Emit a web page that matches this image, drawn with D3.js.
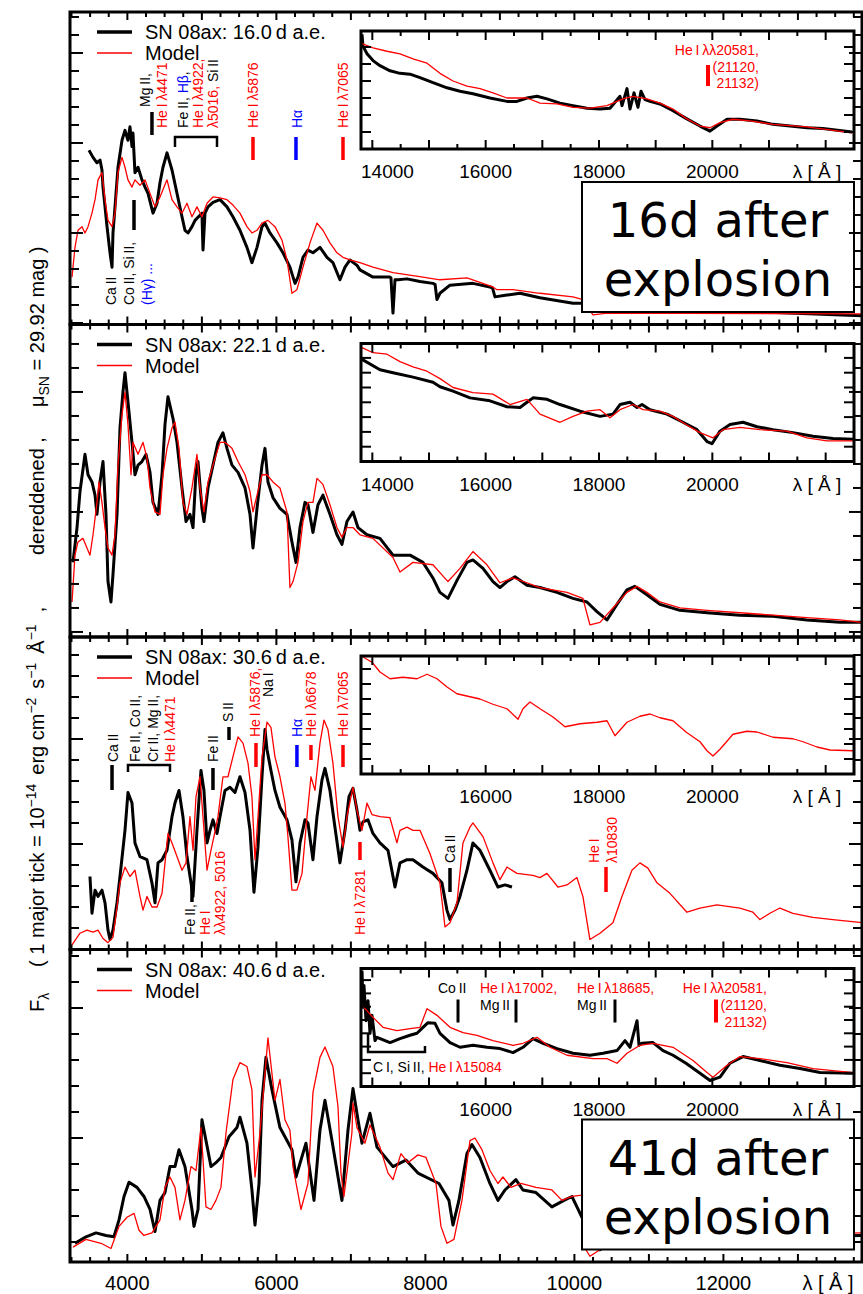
<!DOCTYPE html>
<html>
<head>
<meta charset="utf-8">
<script src="https://cdn.jsdelivr.net/npm/d3@7"></script>
<style>
  body { margin: 0; background: #fff; }
  svg { display: block; }
</style>
</head>
<body>
<svg id="chart" width="863" height="1294"></svg>
<script>
// SN 2008ax: observed spectra vs. radiative-transfer models at four epochs.
// Wavelength in Å, flux in units of 1e-14 erg cm^-2 s^-1 Å^-1 (dereddened).

const epochLabels = ["16.0", "22.1", "30.6", "40.6"];
const boxTexts = [["16d after", "explosion"], null, null, ["41d after", "explosion"]];
const opticalTickLabels = [4000, 6000, 8000, 10000, 12000];
const nirTickLabels = [14000, 16000, 18000, 20000];

// ---------- optical, day 16 ----------
const obsDay16 = [[3485,1.92],[3539,1.84],[3592,1.78],[3633,1.81],[3659,1.70],[3673,1.51],[3727,1.07],[3767,0.78],[3794,0.62],[3807,1.00],[3834,1.29],[3874,1.73],[3928,2.03],[3968,2.14],[4008,2.03],[4035,2.18],[4062,1.96],[4075,2.11],[4102,1.67],[4143,1.73],[4196,1.59],[4237,1.51],[4277,1.44],[4344,1.22],[4398,1.33],[4438,1.56],[4478,1.73],[4532,1.89],[4599,1.70],[4666,1.44],[4733,1.18],[4773,1.03],[4814,1.00],[4867,1.07],[4908,1.14],[5001,1.22],[5015,0.81],[5042,1.22],[5082,1.29],[5149,1.34],[5243,1.37],[5337,1.29],[5417,1.18],[5511,1.03],[5605,0.84],[5672,0.67],[5740,0.84],[5807,1.07],[5847,1.11],[5914,1.00],[6008,0.89],[6088,0.78],[6182,0.62],[6250,0.44],[6290,0.51],[6357,0.73],[6424,0.81],[6491,0.78],[6585,0.84],[6679,0.73],[6759,0.67],[6853,0.48],[6921,0.62],[6988,0.70],[7082,0.64],[7122,0.59],[7296,0.51],[7524,0.51],[7538,0.50],[7565,0.11],[7592,0.48],[7632,0.48],[7753,0.49],[7927,0.46],[8101,0.44],[8130,0.43],[8155,0.26],[8195,0.33],[8330,0.42],[8638,0.44],[8866,0.40],[8900,0.39],[8934,0.29],[9095,0.31],[9269,0.33],[9537,0.28],[9981,0.22],[10114,0.22],[10343,0.19],[13859,0.08]];
const modDay16 = [[3257,0.51],[3297,0.84],[3337,1.03],[3391,1.07],[3431,1.00],[3472,1.07],[3525,1.22],[3566,1.37],[3606,1.59],[3659,1.67],[3700,1.37],[3740,1.14],[3794,1.07],[3834,1.22],[3874,1.67],[3928,1.84],[3968,1.73],[4008,1.59],[4062,1.51],[4102,1.59],[4169,1.53],[4237,1.59],[4304,1.44],[4371,1.29],[4438,1.40],[4532,1.59],[4599,1.37],[4666,1.29],[4733,1.22],[4800,1.33],[4867,1.18],[4934,1.29],[5001,1.18],[5069,1.33],[5149,1.40],[5243,1.39],[5337,1.37],[5417,1.31],[5511,1.22],[5605,1.07],[5672,1.00],[5740,1.03],[5807,1.11],[5887,1.14],[5981,1.07],[6075,0.92],[6142,0.70],[6209,0.33],[6276,0.37],[6357,0.62],[6451,0.89],[6545,1.11],[6625,1.03],[6719,0.89],[6813,0.78],[6894,0.73],[6988,0.70],[7122,0.67],[7296,0.62],[7565,0.56],[7967,0.51],[8195,0.48],[8558,0.50],[8907,0.40],[8960,0.37],[9175,0.37],[9537,0.33],[9981,0.29],[10114,0.26],[10249,0.09],[10437,0.11],[13859,0.10]];
const obsDay16Nir = [[13818,1.35],[13835,1.21],[13906,1.12],[14012,1.04],[14135,0.98],[14312,0.92],[14488,0.89],[14665,0.88],[14841,0.84],[15071,0.78],[15318,0.72],[15547,0.68],[15776,0.65],[16076,0.60],[16376,0.56],[16553,0.56],[16729,0.60],[16906,0.62],[17082,0.59],[17312,0.54],[17541,0.51],[17788,0.48],[18018,0.47],[18194,0.48],[18371,0.62],[18406,0.51],[18494,0.71],[18547,0.47],[18618,0.66],[18688,0.49],[18741,0.68],[18812,0.58],[18900,0.56],[19076,0.53],[19306,0.45],[19535,0.36],[19782,0.27],[19959,0.21],[20082,0.27],[20259,0.35],[20488,0.35],[20788,0.33],[21071,0.29],[21371,0.27],[21671,0.25],[21953,0.24],[22465,0.20]];
const modDay16Nir = [[13818,1.24],[14012,1.19],[14259,1.15],[14488,1.12],[14718,1.06],[14965,1.01],[15194,0.89],[15424,0.80],[15671,0.74],[15900,0.71],[16129,0.66],[16376,0.60],[16606,0.60],[16729,0.60],[16959,0.54],[17259,0.53],[17541,0.49],[17841,0.48],[18141,0.51],[18424,0.59],[18600,0.62],[18847,0.59],[19076,0.54],[19306,0.47],[19535,0.36],[19782,0.27],[19959,0.25],[20135,0.31],[20365,0.35],[20665,0.33],[21071,0.29],[21671,0.26],[22465,0.19]];

// ---------- day 22 ----------
const obsDay22 = [[3270,0.58],[3324,0.87],[3364,1.17],[3431,1.48],[3472,1.31],[3525,1.25],[3566,1.14],[3592,0.98],[3633,1.25],[3673,1.42],[3713,0.98],[3740,0.42],[3780,0.25],[3807,0.48],[3861,0.98],[3901,1.70],[3941,2.00],[3968,2.16],[4008,1.92],[4062,1.58],[4102,1.31],[4143,1.39],[4196,1.42],[4250,1.48],[4304,1.33],[4344,1.08],[4411,0.98],[4465,1.31],[4505,1.73],[4545,1.96],[4612,1.78],[4666,1.58],[4733,1.20],[4787,0.92],[4840,0.98],[4881,0.87],[4921,1.33],[4948,1.42],[5001,1.03],[5028,0.92],[5082,1.20],[5149,1.39],[5216,1.58],[5283,1.66],[5337,1.53],[5404,1.39],[5485,1.33],[5579,1.20],[5646,0.98],[5686,0.70],[5740,1.03],[5807,1.39],[5847,1.53],[5887,1.25],[5954,1.12],[6048,1.03],[6142,0.98],[6209,0.75],[6263,0.58],[6317,0.87],[6384,1.08],[6424,1.06],[6491,0.83],[6558,1.06],[6625,1.14],[6719,0.98],[6813,0.81],[6880,0.73],[6947,0.92],[7028,1.00],[7095,0.87],[7216,0.81],[7390,0.78],[7565,0.64],[7793,0.64],[7967,0.58],[8101,0.45],[8195,0.33],[8303,0.28],[8424,0.43],[8558,0.58],[8638,0.60],[8773,0.53],[8907,0.42],[9001,0.37],[9095,0.42],[9202,0.46],[9363,0.39],[9537,0.37],[9765,0.33],[9981,0.28],[10168,0.25],[10302,0.17],[10437,0.10],[10571,0.23],[10705,0.35],[10812,0.38],[10973,0.31],[11148,0.23],[11416,0.18],[11779,0.16],[12221,0.14],[12664,0.13],[13120,0.10],[13563,0.08],[13859,0.08]];
const modDay22 = [[3257,0.25],[3297,0.64],[3337,0.75],[3404,0.78],[3458,0.70],[3498,0.64],[3539,0.81],[3592,1.08],[3619,1.25],[3659,1.08],[3700,0.87],[3740,0.70],[3794,0.64],[3834,0.81],[3874,1.39],[3928,1.81],[3968,2.00],[4008,1.73],[4049,1.31],[4075,1.58],[4143,1.48],[4210,1.58],[4263,1.45],[4304,1.20],[4371,1.00],[4438,0.98],[4478,1.31],[4532,1.53],[4599,1.70],[4639,1.75],[4693,1.53],[4746,1.08],[4800,0.98],[4867,1.20],[4934,1.48],[4975,1.20],[5028,1.00],[5082,1.25],[5149,1.39],[5243,1.58],[5310,1.58],[5404,1.53],[5485,1.42],[5579,1.31],[5646,1.17],[5686,1.00],[5740,1.14],[5807,1.31],[5874,1.31],[5954,1.25],[6048,1.20],[6142,1.00],[6182,0.37],[6223,0.42],[6290,0.58],[6357,0.92],[6424,1.08],[6491,1.08],[6545,1.28],[6625,1.23],[6719,1.06],[6813,0.87],[6880,0.79],[6947,0.87],[7028,0.87],[7122,0.81],[7296,0.78],[7565,0.62],[7659,0.50],[7833,0.58],[8101,0.56],[8303,0.42],[8464,0.53],[8638,0.67],[8826,0.56],[9001,0.41],[9175,0.45],[9363,0.41],[9537,0.37],[9900,0.33],[10114,0.28],[10208,0.06],[10343,0.08],[10517,0.20],[10705,0.33],[10839,0.38],[10973,0.33],[11148,0.25],[11416,0.20],[11779,0.18],[12221,0.16],[12664,0.14],[13120,0.12],[13563,0.10],[13859,0.08]];
const obsDay22Nir = [[13818,1.38],[14135,1.24],[14365,1.20],[14718,1.14],[15071,1.07],[15194,1.01],[15424,0.95],[15724,0.86],[16076,0.82],[16376,0.74],[16606,0.73],[16729,0.80],[16835,0.86],[17082,0.84],[17312,0.77],[17665,0.68],[18018,0.61],[18247,0.64],[18371,0.77],[18547,0.80],[18671,0.73],[18759,0.77],[18900,0.70],[19200,0.64],[19482,0.53],[19729,0.43],[19906,0.27],[19994,0.24],[20135,0.41],[20312,0.50],[20541,0.53],[20788,0.47],[21071,0.43],[21424,0.39],[21777,0.34],[22129,0.31],[22482,0.30]];
const modDay22Nir = [[13818,1.54],[14012,1.47],[14259,1.45],[14488,1.35],[14718,1.28],[14965,1.22],[15194,1.12],[15424,1.00],[15776,0.93],[16129,0.91],[16429,0.77],[16729,0.84],[16959,0.64],[17312,0.53],[17541,0.61],[17788,0.68],[18018,0.70],[18194,0.59],[18371,0.70],[18600,0.77],[18776,0.70],[19076,0.68],[19306,0.61],[19535,0.50],[19782,0.39],[20012,0.32],[20188,0.43],[20488,0.46],[20841,0.43],[21318,0.41],[21671,0.32],[22024,0.28],[22482,0.28]];

// ---------- day 30.6 ----------
const obsDay31 = [[3498,0.69],[3525,0.34],[3566,0.56],[3606,0.50],[3659,0.56],[3700,0.44],[3740,0.18],[3767,0.09],[3807,0.18],[3861,0.44],[3901,0.69],[3968,1.13],[4008,1.49],[4062,1.39],[4102,1.01],[4169,0.88],[4263,0.85],[4330,0.63],[4371,0.44],[4411,0.82],[4465,0.85],[4532,0.94],[4599,1.26],[4639,1.39],[4693,1.51],[4746,1.26],[4800,0.88],[4854,0.63],[4881,0.50],[4934,1.13],[4988,1.70],[5028,1.51],[5069,1.01],[5109,1.13],[5149,1.23],[5203,1.10],[5243,1.26],[5310,1.51],[5377,1.54],[5444,1.49],[5511,1.64],[5579,1.49],[5646,1.13],[5699,0.54],[5753,0.97],[5807,1.64],[5847,2.09],[5874,1.90],[5927,1.70],[5981,1.51],[6048,1.35],[6142,1.23],[6209,1.04],[6263,0.64],[6317,1.01],[6384,1.23],[6424,1.20],[6491,0.85],[6545,1.26],[6612,1.61],[6652,1.72],[6719,1.51],[6786,1.16],[6853,0.82],[6921,1.13],[6974,1.45],[7028,1.53],[7082,1.32],[7122,1.13],[7162,1.21],[7229,1.23],[7296,1.10],[7390,1.01],[7498,0.94],[7592,0.59],[7659,0.82],[7753,0.85],[7833,0.85],[7967,0.78],[8101,0.72],[8222,0.63],[8289,0.37],[8330,0.28],[8397,0.37],[8464,0.50],[8558,0.75],[8638,1.01],[8732,0.94],[8866,0.75],[8974,0.59],[9068,0.61],[9162,0.59]];
const modDay31 = [[3257,0.04],[3364,0.15],[3458,0.18],[3539,0.16],[3606,0.18],[3673,0.10],[3740,0.06],[3807,0.11],[3861,0.40],[3901,0.63],[3968,0.78],[4035,0.69],[4102,0.75],[4169,0.50],[4210,0.37],[4263,0.50],[4330,0.40],[4398,0.40],[4465,0.53],[4505,0.82],[4545,1.10],[4599,1.01],[4666,0.88],[4733,0.75],[4787,0.82],[4840,1.26],[4881,0.94],[4921,1.45],[4975,1.64],[5015,1.26],[5069,0.75],[5122,0.94],[5162,1.07],[5216,1.26],[5283,1.64],[5350,1.64],[5417,1.83],[5485,2.02],[5552,1.96],[5619,1.77],[5672,1.45],[5713,0.85],[5753,1.26],[5807,1.83],[5874,2.16],[5927,2.11],[5981,1.83],[6048,1.64],[6115,1.39],[6155,1.07],[6209,0.56],[6276,0.56],[6344,0.72],[6411,1.26],[6464,1.64],[6518,1.51],[6585,1.96],[6639,2.18],[6692,2.09],[6759,1.77],[6827,1.26],[6894,0.97],[6947,1.26],[7028,1.54],[7082,1.32],[7149,1.13],[7216,1.39],[7283,1.28],[7390,1.26],[7524,1.25],[7618,1.01],[7659,1.13],[7753,1.16],[7833,1.13],[7927,1.13],[8061,0.91],[8195,0.63],[8263,0.21],[8330,0.25],[8424,0.44],[8504,1.01],[8598,1.16],[8638,1.20],[8773,1.07],[8907,0.82],[9001,0.66],[9095,0.78],[9229,0.72],[9443,0.70],[9537,0.68],[9631,0.72],[9779,0.59],[9900,0.61],[10034,0.68],[10114,0.50],[10208,0.09],[10343,0.15],[10517,0.25],[10638,0.50],[10772,0.75],[10879,0.82],[10987,0.77],[11108,0.63],[11282,0.53],[11510,0.35],[11685,0.39],[11913,0.42],[12221,0.39],[12396,0.35],[12490,0.28],[12624,0.34],[12758,0.39],[12932,0.34],[13201,0.30],[13469,0.28],[13859,0.25]];
const modDay31Nir = [[13835,1.56],[13994,1.49],[14135,1.36],[14312,1.27],[14541,1.29],[14788,1.27],[14965,1.33],[15141,1.27],[15318,1.16],[15494,1.07],[15724,1.03],[15900,1.00],[16129,0.93],[16376,0.87],[16571,0.73],[16659,0.87],[16782,0.96],[16959,0.87],[17188,0.76],[17400,0.63],[17665,0.67],[17965,0.69],[18141,0.71],[18282,0.51],[18494,0.69],[18724,0.77],[18900,0.80],[19076,0.75],[19306,0.71],[19535,0.56],[19782,0.43],[19906,0.31],[20012,0.24],[20135,0.33],[20365,0.53],[20612,0.57],[20788,0.56],[21071,0.49],[21424,0.47],[21600,0.43],[21847,0.36],[22077,0.32],[22482,0.31]];

// ---------- day 40.6 ----------
const obsDay41 = [[3297,0.19],[3445,0.24],[3579,0.27],[3713,0.25],[3820,0.24],[3888,0.37],[3955,0.55],[4022,0.66],[4129,0.62],[4223,0.55],[4304,0.45],[4371,0.28],[4438,0.52],[4505,0.58],[4572,0.78],[4639,0.78],[4693,0.91],[4773,0.78],[4867,0.45],[4894,0.32],[4948,0.45],[5001,1.14],[5055,0.98],[5122,0.78],[5189,0.81],[5256,0.85],[5364,1.01],[5471,1.08],[5511,1.16],[5605,0.96],[5672,0.60],[5713,0.33],[5767,0.65],[5807,1.29],[5860,1.62],[5941,1.37],[6048,1.08],[6115,1.01],[6209,0.91],[6263,0.70],[6397,0.96],[6505,0.52],[6585,1.06],[6652,1.29],[6746,0.98],[6880,0.52],[6961,1.06],[7028,1.38],[7095,1.14],[7149,0.96],[7256,1.19],[7350,0.93],[7565,0.78],[7739,0.83],[7900,0.73],[8182,0.65],[8316,0.52],[8370,0.33],[8450,0.52],[8558,0.88],[8625,0.95],[8732,0.85],[8866,0.65],[8974,0.52],[9068,0.60],[9215,0.68],[9309,0.60],[9484,0.58],[9698,0.47],[9860,0.52],[9967,0.55],[10034,0.47],[10101,0.39],[10343,0.14],[10544,0.22],[13859,0.25]];
const modDay41 = [[3270,0.16],[3445,0.22],[3646,0.19],[3780,0.15],[3888,0.32],[3995,0.39],[4089,0.42],[4156,0.29],[4223,0.25],[4330,0.27],[4438,0.37],[4505,0.62],[4572,0.70],[4639,0.62],[4706,0.37],[4773,0.52],[4854,0.78],[4921,0.75],[4988,1.08],[5055,0.47],[5122,0.45],[5189,0.52],[5256,0.62],[5324,1.04],[5417,1.45],[5511,1.58],[5605,1.55],[5672,1.37],[5713,0.70],[5780,1.04],[5887,1.77],[5981,1.29],[6048,1.45],[6115,1.14],[6182,1.06],[6223,0.78],[6330,0.45],[6424,0.65],[6491,1.35],[6585,1.62],[6652,1.70],[6759,1.55],[6827,1.24],[6867,0.73],[6907,0.55],[7014,1.04],[7028,1.27],[7082,1.08],[7189,0.96],[7256,1.10],[7390,0.93],[7498,0.73],[7565,0.68],[7672,0.88],[7766,0.81],[7900,0.87],[8008,0.85],[8142,0.65],[8209,0.32],[8289,0.19],[8383,0.22],[8491,0.52],[8598,0.98],[8665,1.00],[8759,0.91],[8866,0.75],[8974,0.65],[9041,0.70],[9148,0.62],[9282,0.65],[9484,0.62],[9698,0.60],[9833,0.52],[9967,0.55],[10101,0.56],[10155,0.14],[10208,0.09],[10343,0.14],[10544,0.23],[13859,0.27]];
const obsDay41Nir = [[13818,1.74],[13835,1.19],[13853,1.52],[13888,0.99],[13924,1.29],[13959,0.80],[13994,1.07],[14047,0.69],[14082,0.74],[14312,0.66],[14488,0.72],[14665,0.77],[14788,0.80],[14894,0.89],[14982,0.96],[15106,0.95],[15194,0.80],[15371,0.66],[15547,0.59],[15776,0.62],[16024,0.59],[16253,0.57],[16482,0.51],[16659,0.59],[16835,0.72],[17012,0.65],[17259,0.57],[17541,0.50],[17841,0.47],[18071,0.50],[18318,0.54],[18459,0.69],[18547,0.59],[18671,0.99],[18706,0.62],[18759,0.65],[18953,0.66],[19129,0.54],[19306,0.47],[19535,0.35],[19782,0.20],[19959,0.09],[20135,0.14],[20312,0.35],[20541,0.45],[20841,0.39],[21194,0.32],[21547,0.27],[21900,0.21],[22482,0.20]];
const modDay41Nir = [[13818,1.22],[14012,1.04],[14188,0.89],[14435,0.84],[14665,0.87],[14841,0.89],[14965,1.17],[15141,1.07],[15371,0.89],[15600,0.81],[15847,0.77],[16129,0.69],[16482,0.62],[16659,0.65],[16906,0.74],[17135,0.59],[17435,0.47],[17894,0.42],[18141,0.42],[18318,0.35],[18494,0.50],[18724,0.62],[18953,0.65],[19306,0.59],[19659,0.39],[19906,0.21],[20012,0.14],[20259,0.32],[20488,0.45],[20841,0.42],[21318,0.36],[21777,0.27],[22482,0.21]];

const observed = [obsDay16, obsDay22, obsDay31, obsDay41];
const models = [modDay16, modDay22, modDay31, modDay41];
const observedNir = [obsDay16Nir, obsDay22Nir, null, obsDay41Nir];
const modelsNir = [modDay16Nir, modDay22Nir, modDay31Nir, modDay41Nir];

// ---------- line identifications ----------
const K = "#000000", R = "#ff0000", B = "#0000ff";
const T = "\u2009";
// [panel, wavelength, colour, from, to]  (px below the panel top)
const lineMarks = [
  [0, 4089, K, 188, 218], [0, 4330, K, 100, 123],
  [0, 5686, R, 125, 148], [0, 6263, B, 125, 148], [0, 6894, R, 125, 148],
  [2, 3794, K, 128, 153], [2, 5149, K, 131, 153], [2, 5364, K, 90, 103],
  [2, 5726, R, 106, 130], [2, 6276, B, 108, 130], [2, 6464, R, 108, 123],
  [2, 6894, R, 108, 130], [2, 7122, R, 205, 223], [2, 4867, K, 246, 265],
  [2, 8330, K, 231, 255], [2, 10424, R, 230, 255]
];
// [panel, from, to, y, leg]
const lineBrackets = [[0, 4639, 5203, 125, 10], [2, 4008, 4572, 128, 7]];
// rotated labels: [panel, wavelength, dx, y(bottom end), parts]
const rotLabels = [
  [0, 4089, -23, 293, [["Ca" + T + "II", K]]],
  [0, 4089, -5, 293, [["Co" + T + "II, Si" + T + "II,", K]]],
  [0, 4089, 13, 293, [["(H\u03b3) ...", B]]],
  [0, 4330, -7, 95, [["Mg" + T + "II,", K]]],
  [0, 4330, 10, 116, [["He" + T + "I" + T + "\u03bb4471", R]]],
  [0, 4639, 8, 116, [["Fe" + T + "II, ", K], ["H\u03b2", B], [",", K]]],
  [0, 4639, 23, 116, [["He" + T + "I" + T + "\u03bb4922,", R]]],
  [0, 4639, 38, 116, [["\u03bb5016, ", R], ["Si" + T + "II", K]]],
  [0, 5686, 0, 116, [["He" + T + "I" + T + "\u03bb5876", R]]],
  [0, 6263, 1, 116, [["H\u03b1", B]]],
  [0, 6894, 0, 116, [["He" + T + "I" + T + "\u03bb7065", R]]],
  [2, 3794, 1, 125, [["Ca" + T + "II", K]]],
  [2, 4008, 7, 125, [["Fe" + T + "II, Co" + T + "II,", K]]],
  [2, 4008, 25, 125, [["Cr" + T + "II, Mg" + T + "II,", K]]],
  [2, 4008, 42, 125, [["He" + T + "I" + T + "\u03bb4471", R]]],
  [2, 5149, 0, 125, [["Fe" + T + "II", K]]],
  [2, 5364, -1, 85, [["S" + T + "II", K]]],
  [2, 5726, -1, 100, [["He" + T + "I" + T + "\u03bb5876,", R]]],
  [2, 5726, 12, 60, [["Na" + T + "I", K]]],
  [2, 6276, 0, 100, [["H\u03b1", B]]],
  [2, 6464, 0, 100, [["He" + T + "I" + T + "\u03bb6678", R]]],
  [2, 6894, 0, 100, [["He" + T + "I" + T + "\u03bb7065", R]]],
  [2, 7122, 0, 298, [["He" + T + "I" + T + "\u03bb7281", R]]],
  [2, 4867, -2, 298, [["Fe" + T + "II,", K]]],
  [2, 4867, 13, 298, [["He" + T + "I", R]]],
  [2, 4867, 28, 298, [["\u03bb\u03bb4922, 5016", R]]],
  [2, 8330, 0, 226, [["Ca" + T + "II", K]]],
  [2, 10424, -12, 226, [["He" + T + "I", R]]],
  [2, 10424, 6, 226, [["\u03bb10830", R]]]
];
// near-infrared marks: [panel, wavelength, colour, from, to, width]
const nirMarks = [
  [0, 19924, R, 53, 74, 4],
  [3, 15512, K, 50, 73, 3], [3, 16535, K, 50, 73, 3], [3, 18282, K, 50, 73, 3], [3, 20065, R, 50, 73, 4]
];
// near-infrared labels: [panel, wavelength, dx, baseline, anchor, parts]
const nirLabels = [
  [0, 19924, 51, 43, "end", [["He" + T + "I" + T + "\u03bb\u03bb20581,", R]]],
  [0, 19924, 51, 60, "end", [["(21120,", R]]],
  [0, 19924, 51, 76, "end", [["21132)", R]]],
  [3, 15512, -20, 43.5, "start", [["Co" + T + "II", K]]],
  [3, 16535, -36, 43.5, "start", [["He" + T + "I" + T + "\u03bb17002,", R]]],
  [3, 16535, -36, 60.5, "start", [["Mg" + T + "II", K]]],
  [3, 18282, -38, 43.5, "start", [["He" + T + "I" + T + "\u03bb18685,", R]]],
  [3, 18282, -38, 60.5, "start", [["Mg" + T + "II", K]]],
  [3, 20065, 51, 43.5, "end", [["He" + T + "I" + T + "\u03bb\u03bb20581,", R]]],
  [3, 20065, 51, 60.5, "end", [["(21120,", R]]],
  [3, 20065, 51, 77.5, "end", [["21132)", R]]],
  [3, 13924, 5, 122.5, "start", [["C" + T + "I, Si" + T + "II, ", K], ["He" + T + "I" + T + "\u03bb15084", R]]]
];
// [panel, from, to, y]
const nirBrackets = [[3, 13924, 14929, 102.5]];

// ---------- layout ----------
const FONT = "'Liberation Sans', Arial, Helvetica, sans-serif";
const X0 = 70, X1 = 862, TOP = 12, PH = 312.5;
const pxPerFlux = [90, 120, 105, 130];
const fluxAtBottom = [-0.017, -0.042, -0.005, 0.046];
const IX0 = 361, IX1 = 854, IOFF = 19, IH = 118;
const pxPerFluxNir = [85, 74, 75, 66.5];

const svg = d3.select("#chart");
const x = d3.scaleLinear().domain([3230, 13860]).range([X0, X1]);
const xi = d3.scaleLinear().domain([13800, 22500]).range([IX0, IX1]);
const defs = svg.append("defs");

function addText(g, parts) {
  parts.forEach(([s, c]) => g.append("tspan").attr("fill", c).text(s));
  return g;
}

function drawXTicks(g, scale, vals, yTop, yBot, major, minor, isMajor) {
  vals.forEach(v => {
    const L = isMajor(v) ? major : minor;
    const px = scale(v);
    g.append("line").attr("x1", px).attr("x2", px).attr("y1", yTop).attr("y2", yTop + L);
    g.append("line").attr("x1", px).attr("x2", px).attr("y1", yBot).attr("y2", yBot - L);
  });
}
function drawYTicks(g, scale, xl, xr, major, minor) {
  const [d0, d1] = scale.domain();
  const start = Math.ceil(d0 / 0.2 - 1e-6);
  for (let k = start; k * 0.2 <= d1 + 1e-6; k++) {
    const py = scale(k * 0.2);
    const L = (k % 5 === 0) ? major : minor;
    g.append("line").attr("x1", xl).attr("x2", xl + L).attr("y1", py).attr("y2", py);
    g.append("line").attr("x1", xr).attr("x2", xr - L).attr("y1", py).attr("y2", py);
  }
}

const mainMinor = d3.range(3250, 13860, 250);
const nirMinor = d3.range(14000, 22500, 500);

for (let i = 0; i < 4; i++) {
  const top = TOP + i * PH, bot = top + PH;
  const y = d3.scaleLinear()
    .domain([fluxAtBottom[i], fluxAtBottom[i] + PH / pxPerFlux[i]])
    .range([bot, top]);
  const g = svg.append("g");

  defs.append("clipPath").attr("id", "clipMain" + i)
    .append("rect").attr("x", X0).attr("y", top).attr("width", X1 - X0).attr("height", PH);

  const line = d3.line().x(d => x(d[0])).y(d => y(d[1]));
  const spec = g.append("g").attr("clip-path", `url(#clipMain${i})`);
  spec.append("path").datum(observed[i]).attr("d", line)
    .attr("fill", "none").attr("stroke", K).attr("stroke-width", 3).attr("stroke-linejoin", "round");
  spec.append("path").datum(models[i]).attr("d", line)
    .attr("fill", "none").attr("stroke", R).attr("stroke-width", 1.3).attr("stroke-linejoin", "round");

  // line identifications
  const ann = g.append("g").attr("font-family", FONT).attr("font-size", 14);
  lineMarks.filter(m => m[0] === i).forEach(([, lam, c, a, b]) => {
    ann.append("line").attr("x1", x(lam)).attr("x2", x(lam))
      .attr("y1", top + a).attr("y2", top + b).attr("stroke", c).attr("stroke-width", 3.5);
  });
  lineBrackets.filter(m => m[0] === i).forEach(([, l0, l1, yy, leg]) => {
    const xa = x(l0), xb = x(l1), yb = top + yy;
    ann.append("path").attr("d", `M${xa},${yb + leg}V${yb}H${xb}V${yb + leg}`)
      .attr("fill", "none").attr("stroke", K).attr("stroke-width", 2.5);
  });
  rotLabels.filter(m => m[0] === i).forEach(([, lam, dx, yy, parts]) => {
    const t = ann.append("text")
      .attr("transform", `translate(${x(lam) + dx},${top + yy}) rotate(-90)`)
      .attr("dy", "0.36em");
    addText(t, parts);
  });

  // legend
  const lg = g.append("g").attr("font-family", FONT).attr("font-size", 20);
  lg.append("line").attr("x1", 97).attr("x2", 132).attr("y1", top + 20).attr("y2", top + 20)
    .attr("stroke", K).attr("stroke-width", 3.5);
  lg.append("line").attr("x1", 97).attr("x2", 132).attr("y1", top + 41).attr("y2", top + 41)
    .attr("stroke", R).attr("stroke-width", 1.3);
  lg.append("text").attr("x", 145).attr("y", top + 27).attr("fill", K)
    .text("SN 08ax: " + epochLabels[i] + T + "d a.e.");
  lg.append("text").attr("x", 145).attr("y", top + 48).attr("fill", K).text("Model");

  // epoch box
  if (boxTexts[i]) {
    const bx = g.append("g");
    bx.append("rect").attr("x", 582).attr("y", top + 170).attr("width", 272).attr("height", 130)
      .attr("fill", "#fff").attr("stroke", K).attr("stroke-width", 2);
    bx.append("text").attr("x", 718).attr("y", top + 225).attr("text-anchor", "middle")
      .attr("font-family", "'DejaVu Sans', sans-serif").attr("font-size", 48).text(boxTexts[i][0]);
    bx.append("text").attr("x", 718).attr("y", top + 284).attr("text-anchor", "middle")
      .attr("font-family", "'DejaVu Sans', sans-serif").attr("font-size", 48).text(boxTexts[i][1]);
  }

  // near-infrared inset
  const itop = top + IOFF, ibot = itop + IH;
  const yi = d3.scaleLinear().domain([0, IH / pxPerFluxNir[i]]).range([ibot, itop]);
  const ig = g.append("g");
  ig.append("rect").attr("x", IX0).attr("y", itop).attr("width", IX1 - IX0).attr("height", IH)
    .attr("fill", "#fff");
  defs.append("clipPath").attr("id", "clipNir" + i)
    .append("rect").attr("x", IX0).attr("y", itop - 2).attr("width", IX1 - IX0).attr("height", IH + 2);
  const iline = d3.line().x(d => xi(d[0])).y(d => yi(d[1]));
  const ispec = ig.append("g").attr("clip-path", `url(#clipNir${i})`);
  if (observedNir[i]) {
    ispec.append("path").datum(observedNir[i]).attr("d", iline)
      .attr("fill", "none").attr("stroke", K).attr("stroke-width", 3).attr("stroke-linejoin", "round");
  }
  ispec.append("path").datum(modelsNir[i]).attr("d", iline)
    .attr("fill", "none").attr("stroke", R).attr("stroke-width", 1.3).attr("stroke-linejoin", "round");

  const ia = ig.append("g").attr("font-family", FONT).attr("font-size", 14);
  nirMarks.filter(m => m[0] === i).forEach(([, lam, c, a, b, w]) => {
    ia.append("line").attr("x1", xi(lam)).attr("x2", xi(lam))
      .attr("y1", top + a).attr("y2", top + b).attr("stroke", c).attr("stroke-width", w);
  });
  nirBrackets.filter(m => m[0] === i).forEach(([, l0, l1, yy]) => {
    const xa = xi(l0), xb = xi(l1), yb = top + yy;
    ia.append("path").attr("d", `M${xa},${yb - 18}V${yb}H${xb}V${yb - 6}`)
      .attr("fill", "none").attr("stroke", K).attr("stroke-width", 2.5);
  });
  nirLabels.filter(m => m[0] === i).forEach(([, lam, dx, yy, anchor, parts]) => {
    const t = ia.append("text").attr("x", xi(lam) + dx).attr("y", top + yy).attr("text-anchor", anchor);
    addText(t, parts);
  });

  const it = ig.append("g").attr("stroke", K).attr("stroke-width", 2);
  drawXTicks(it, xi, nirMinor, itop, ibot, 9, 5, v => v % 1000 === 0);
  drawYTicks(it, yi, IX0, IX1, 10, 10);
  ig.append("rect").attr("x", IX0).attr("y", itop).attr("width", IX1 - IX0).attr("height", IH)
    .attr("fill", "none").attr("stroke", K).attr("stroke-width", 3);

  const il = ig.append("g").attr("font-family", FONT).attr("font-size", 19).attr("fill", K);
  nirTickLabels.forEach(v => {
    if (v === 14000 && i >= 2) return;
    const t = il.append("text").attr("y", ibot + 29).text(v);
    if (v === 14000) t.attr("x", IX0).attr("text-anchor", "start");
    else t.attr("x", xi(v)).attr("text-anchor", "middle");
  });
  il.append("text").attr("x", 817).attr("y", ibot + 29).attr("text-anchor", "middle")
    .text("\u03bb [ \u00c5 ]");

  // main frame and ticks
  const mt = g.append("g").attr("stroke", K).attr("stroke-width", 2);
  drawXTicks(mt, x, mainMinor, top, bot, 8, 5, v => v % 1000 === 0);
  drawYTicks(mt, y, X0, X1, 13, 9);
  g.append("rect").attr("x", X0).attr("y", top).attr("width", X1 - X0).attr("height", PH)
    .attr("fill", "none").attr("stroke", K).attr("stroke-width", 3);
}

// wavelength axis labels under the last panel
const bottom = TOP + 4 * PH;
const xl = svg.append("g").attr("font-family", FONT).attr("font-size", 20).attr("fill", K);
opticalTickLabels.forEach(v => {
  xl.append("text").attr("x", x(v)).attr("y", bottom + 28).attr("text-anchor", "middle").text(v);
});
xl.append("text").attr("x", 828).attr("y", bottom + 28).attr("text-anchor", "middle")
  .text("\u03bb  [ \u00c5 ]");

// flux axis title
const ya = svg.append("g").attr("font-family", FONT).attr("font-size", 20).attr("fill", K);
function rotTitle(yStart, build) {
  const t = ya.append("text").attr("transform", `translate(44,${yStart}) rotate(-90)`);
  build(t);
}
rotTitle(1012, t => {
  t.append("tspan").text("F");
  t.append("tspan").attr("font-size", 14).attr("dy", 5).text("\u03bb");
});
rotTitle(967, t => {
  t.append("tspan").text("( 1 major tick = 10");
  t.append("tspan").attr("font-size", 14).attr("dy", -8).text("\u221214");
  t.append("tspan").attr("dy", 8).attr("dx", 9).text("erg cm");
  t.append("tspan").attr("font-size", 14).attr("dy", -8).text("\u22122");
  t.append("tspan").attr("dy", 8).attr("dx", 9).text("s");
  t.append("tspan").attr("font-size", 14).attr("dy", -8).text("\u22121");
  t.append("tspan").attr("dy", 8).attr("dx", 9).text("\u00c5");
  t.append("tspan").attr("font-size", 14).attr("dy", -8).text("\u22121");
  t.append("tspan").attr("dy", 8).attr("dx", 12).text(",");
});
rotTitle(555, t => t.append("tspan").text("dereddened ,"));
rotTitle(407, t => {
  t.append("tspan").text("\u03bc");
  t.append("tspan").attr("font-size", 14).attr("dy", 5).text("SN");
  t.append("tspan").attr("dy", -5).text(" = 29.92 mag )");
});
</script>
</body>
</html>
